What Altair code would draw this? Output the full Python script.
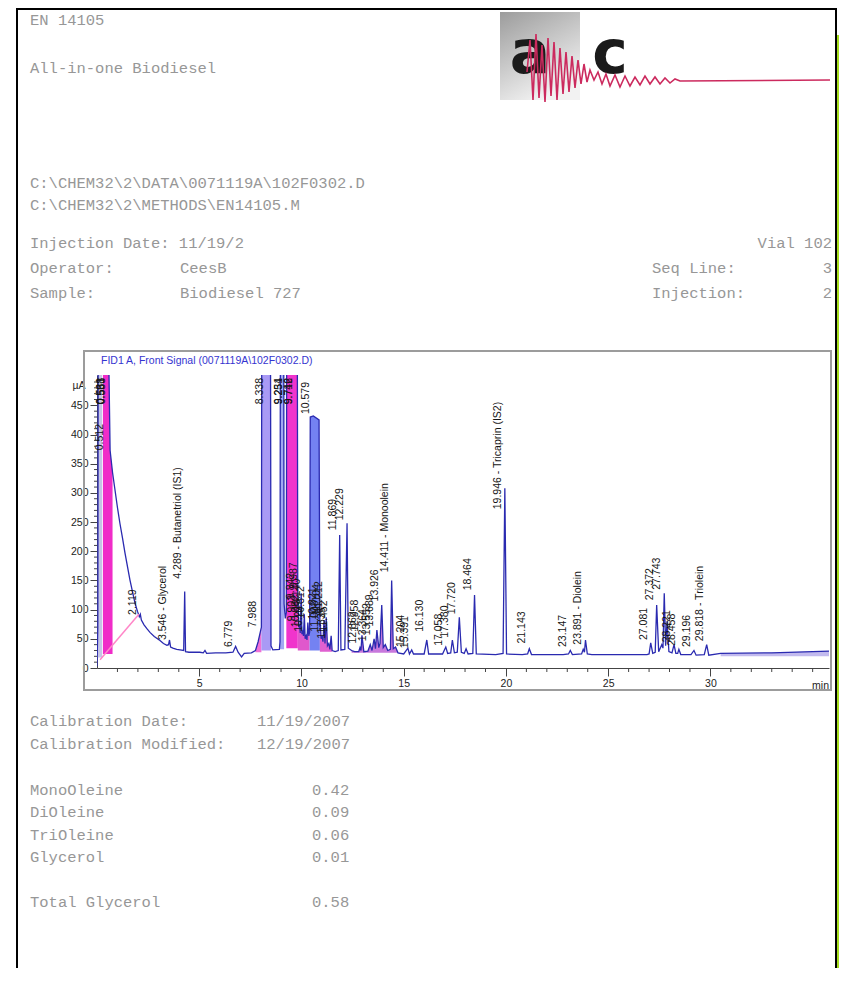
import altair as alt
import pandas as pd

# ---------------- chromatogram trace (min, µA) ----------------
trace_time = [0.00, 0.04, 0.07, 0.25, 0.29, 0.55, 0.58, 0.64, 0.76, 0.88, 1.00, 1.12, 1.25, 1.37, 1.50,
              1.61, 1.74, 1.86, 1.98, 2.07, 2.119, 2.17, 2.30, 2.45, 2.59, 2.80, 3.08, 3.25, 3.42, 3.50,
              3.546, 3.60, 3.71, 3.90, 4.06, 4.24, 4.289, 4.33, 4.50, 5.03, 5.20, 5.28, 5.36, 5.80, 6.30,
              6.65, 6.779, 6.90, 7.07, 7.20, 7.55, 7.75, 7.88, 7.988, 8.04, 8.07, 8.338, 8.47, 8.51, 8.60,
              8.92, 8.95, 8.98, 9.12, 9.15, 9.21, 9.26, 9.29, 9.50, 9.78, 9.82, 9.842, 9.87, 9.903, 9.94,
              9.987, 10.02, 10.062, 10.10, 10.140, 10.18, 10.227, 10.27, 10.312, 10.36, 10.40, 10.43, 10.579,
              10.86, 10.90, 10.921, 10.96, 11.008, 11.05, 11.104, 11.15, 11.212, 11.27, 11.335, 11.39, 11.452,
              11.50, 11.65, 11.80, 11.869, 11.93, 12.12, 12.229, 12.29, 12.45, 12.60, 12.80, 12.862, 12.91,
              12.958, 13.05, 13.25, 13.364, 13.45, 13.552, 13.62, 13.689, 13.78, 13.84, 13.926, 14.00, 14.10,
              14.22, 14.35, 14.411, 14.49, 14.60, 14.72, 15.00, 15.204, 15.28, 15.391, 15.48, 16.00, 16.130,
              16.22, 16.90, 17.058, 17.15, 17.30, 17.380, 17.48, 17.62, 17.720, 17.82, 17.96, 18.05, 18.15,
              18.38, 18.464, 18.55, 19.50, 19.86, 19.946, 20.03, 20.80, 21.06, 21.143, 21.25, 22.80, 23.06,
              23.147, 23.25, 23.70, 23.78, 23.84, 23.891, 23.98, 24.20, 26.90, 27.00, 27.081, 27.18, 27.30,
              27.372, 27.47, 27.62, 27.68, 27.743, 27.81, 27.88, 27.97, 28.12, 28.221, 28.31, 28.40, 28.458,
              28.55, 29.05, 29.196, 29.30, 29.70, 29.818, 29.92, 30.50, 33.00, 35.80]
trace_signal = [3, 70, 900, 900, 900, 900, 520, 373, 335, 305, 275, 248, 222, 197, 172,
                151, 130, 111, 97, 88, 92, 82, 74, 67, 61, 54, 47, 42, 39, 40,
                48, 36, 34, 32, 31, 30, 131, 28, 27, 27, 26, 30, 25, 26, 26,
                27, 37, 27, 19, 25, 26, 30, 45, 62, 70, 900, 900, 900, 38, 31,
                32, 45, 900, 900, 110, 85, 95, 900, 900, 900, 105, 110, 70, 74, 60,
                128, 58, 62, 55, 92, 50, 55, 48, 78, 55, 62, 430, 432,
                425, 70, 76, 50, 55, 45, 82, 42, 87, 38, 42, 32, 55,
                30, 28, 30, 228, 31, 32, 248, 34, 30, 28, 28, 35, 30,
                56, 28, 29, 40, 30, 50, 33, 65, 35, 42, 108, 35, 40,
                30, 32, 150, 33, 36, 26, 24, 34, 24, 31, 24, 24, 48,
                24, 24, 36, 25, 26, 48, 26, 27, 87, 27, 25, 33, 24,
                25, 125, 24, 23, 25, 308, 24, 23, 24, 33, 23, 23, 24,
                30, 23, 24, 32, 27, 48, 24, 23, 23, 24, 43, 25, 27,
                108, 28, 40, 34, 128, 38, 80, 28, 26, 40, 25, 25, 32,
                23, 23, 30, 22, 23, 40, 22, 25, 26, 29]

# ---------------- peak labels: retention time, µA where label starts (None = hung from top), name ----------------
peak_time = [0.512, 0.538, 0.561, 0.583, 2.119, 3.546, 4.289, 6.779, 7.988, 8.338, 9.231, 9.254, 9.716, 9.742,
             9.842, 9.903, 9.987, 10.062, 10.140, 10.227, 10.312, 10.579, 10.921, 11.008, 11.104, 11.212,
             11.335, 11.452, 11.869, 12.229, 12.862, 12.958, 13.364, 13.552, 13.689, 13.926, 14.411, 15.204,
             15.391, 16.130, 17.058, 17.380, 17.720, 18.464, 19.946, 21.143, 23.147, 23.891, 27.081, 27.372,
             27.743, 28.221, 28.458, 29.196, 29.818]
peak_label_at = [373, None, None, None, 91, 48, 153, 36, 70, None, None, None, None, None,
                 118, 80, 136, 70, 98, 62, 85, 435, 83, 62, 90, 95,
                 50, 62, 236, 253, 42, 62, 46, 56, 71, 114, 164, 36,
                 34, 62, 38, 52, 92, 133, 272, 42, 36, 40, 48, 116,
                 134, 44, 38, 36, 46]
peak_name = {3.546: "Glycerol", 4.289: "Butanetriol (IS1)", 14.411: "Monoolein",
             19.946: "Tricaprin (IS2)", 23.891: "Diolein", 29.818: "Triolein"}

# ---------------- integrated (shaded) regions: from, to, baseline µA ----------------
area_from = [0.00, 0.29, 7.75, 8.04, 8.95, 9.26, 9.82, 10.40, 10.90, 12.45, 30.50]
area_to = [0.25, 0.76, 8.04, 8.51, 9.15, 9.82, 10.40, 10.90, 11.50, 14.72, 35.80]
area_base = [18, 24, 27, 30, 32, 34, 30, 30, 28, 26, 20]
area_color = ["#c6c6e6", "#f02cc8", "#f070d6", "#a99af5", "#a2a8f2", "#f034cc",
              "#e058cc", "#7482f2", "#e060d0", "#c878dc", "#c2baee"]

# tangent baseline drawn in pink under the solvent tail
tangent_time = [0.15, 2.05]
tangent_signal = [14, 92]

# axis ticks
x_major = [5, 10, 15, 20, 25, 30]
x_minor = [1, 2, 3, 4, 6, 7, 8, 9, 11, 12, 13, 14, 16, 17, 18, 19, 21, 22, 23, 24, 26, 27, 28, 29,
           31, 32, 33, 34, 35]
y_major = [0, 50, 100, 150, 200, 250, 300, 350, 400, 450]
y_minor = [10, 20, 30, 40, 60, 70, 80, 90, 110, 120, 130, 140, 160, 170, 180, 190, 210, 220, 230, 240,
           260, 270, 280, 290, 310, 320, 330, 340, 360, 370, 380, 390, 410, 420, 430, 440, 460, 470, 480, 490]

# ---------------- report texts ----------------
method_name = "EN 14105"
method_title = "All-in-one Biodiesel"
data_file = "C:\\CHEM32\\2\\DATA\\0071119A\\102F0302.D"
method_file = "C:\\CHEM32\\2\\METHODS\\EN14105.M"
injection_date = "11/19/2"
operator = "CeesB"
sample = "Biodiesel 727"
vial = "102"
seq_line = "3"
injection_no = "2"
signal_title = "FID1 A, Front Signal (0071119A\\102F0302.D)"
calibration_date = "11/19/2007"
calibration_modified = "12/19/2007"
result_names = ["MonoOleine", "DiOleine", "TriOleine", "Glycerol"]
result_values = ["0.42", "0.09", "0.06", "0.01"]
total_name = "Total Glycerol"
total_value = "0.58"

# ---------------- layout (page pixels) ----------------
W, H = 732, 293
X0, Y0 = 97, 375          # plot origin on the page
PAD = {"left": 89, "top": 367, "right": 10, "bottom": 300}
MONO = "Liberation Mono"
SANS = "Liberation Sans"
DOC_GRAY = "#979797"

result_rows = [790, 812, 835, 857]
left_lines = [
    (method_name, 30, 20), (method_title, 30, 68),
    (data_file, 30, 183), (method_file, 30, 205),
    ("Injection Date: " + injection_date, 30, 243),
    ("Operator:", 30, 268), (operator, 180, 268), ("Seq Line:", 652, 268),
    ("Sample:", 30, 293), (sample, 180, 293), ("Injection:", 652, 293),
    ("Calibration Date:", 30, 721), (calibration_date, 257, 721),
    ("Calibration Modified:", 30, 744), (calibration_modified, 257, 744),
]
for n, v, yy in zip(result_names, result_values, result_rows):
    left_lines.append((n, 30, yy))
    left_lines.append((v, 312, yy))
left_lines += [(total_name, 30, 902), (total_value, 312, 902)]
right_lines = [("Vial " + vial, 832, 243), (seq_line, 832, 268), (injection_no, 832, 293)]

# ---------------- build frames ----------------
trace = pd.DataFrame({"time": trace_time, "signal": trace_signal})

lab = pd.DataFrame({"time": peak_time, "at": peak_label_at})
lab["text"] = [f"{t:.3f}" + (" - " + peak_name[t] if t in peak_name else "") for t in peak_time]
lab_low = lab[lab["at"].notna()].rename(columns={"at": "signal"})
lab_top = lab[lab["at"].isna()][["time", "text"]]

tangent = pd.DataFrame({"time": tangent_time, "signal": tangent_signal})
xminor = pd.DataFrame({"time": x_minor})
yminor = pd.DataFrame({"signal": y_minor})

xs = alt.Scale(domain=[0, 35.8], nice=False, zero=False)
ys = alt.Scale(domain=[0, 502], nice=False)

axis_common = dict(domainColor="#444", tickColor="#444", labelColor="#222", labelFont=SANS,
                   labelFontSize=10.5, titleFont=SANS, titleFontSize=10.5, titleFontWeight="normal",
                   titleColor="#222", grid=False)
x_axis = alt.Axis(values=x_major, tickSize=8, labelPadding=2, title="min", titleX=723, titleY=17,
                  titleAlign="center", titleBaseline="middle", labelFlush=False, **axis_common)
y_axis = alt.Axis(values=y_major, tickSize=7, labelPadding=2, title="µA", titleAngle=0, titleX=-12,
                  titleY=10, titleAlign="right", titleBaseline="middle", **axis_common)
X = alt.X("time:Q", scale=xs, axis=x_axis)
Y = alt.Y("signal:Q", scale=ys, axis=y_axis)

one = pd.DataFrame({"k": [0]})


def deco(mark, **enc):
    return alt.Chart(one).mark_rect(**mark).encode(**enc)


def px_pos(field):
    return alt.X(field + ":Q", scale=None, axis=None)


def py_pos(field):
    return alt.Y(field + ":Q", scale=None, axis=None)


# document borders and chart frame
border_left = deco(dict(color="#000"), x=alt.value(16 - X0), x2=alt.value(18 - X0),
                   y=alt.value(9 - Y0), y2=alt.value(968 - Y0))
border_top = deco(dict(color="#000"), x=alt.value(16 - X0), x2=alt.value(837 - X0),
                  y=alt.value(8 - Y0), y2=alt.value(10 - Y0))
border_right = deco(dict(color="#000"), x=alt.value(835 - X0), x2=alt.value(837 - X0),
                    y=alt.value(8 - Y0), y2=alt.value(968 - Y0))
green = deco(dict(color="#a6dc1e"), x=alt.value(837 - X0), x2=alt.value(839 - X0),
             y=alt.value(35 - Y0), y2=alt.value(968 - Y0))
frame = deco(dict(fillOpacity=0, stroke="#9c9c9c", strokeWidth=2),
             x=alt.value(84 - X0), x2=alt.value(831 - X0), y=alt.value(351 - Y0), y2=alt.value(690 - Y0))

# logo
logo_box = deco(dict(color=alt.Gradient(gradient="linear", x1=0, y1=0, x2=0.5, y2=1,
                                        stops=[alt.GradientStop(color="#9c9c9c", offset=0),
                                               alt.GradientStop(color="#f2f2f2", offset=1)])),
                x=alt.value(500 - X0), x2=alt.value(580 - X0), y=alt.value(12 - Y0), y2=alt.value(100 - Y0))
logo_letters = alt.Chart(pd.DataFrame({"t": ["a", "c"], "px": [530 - X0, 610 - X0], "py": [73 - Y0, 73 - Y0]})).mark_text(
    font="DejaVu Sans", fontWeight="bold", fontSize=60, color="#1b1b1b", baseline="alphabetic", align="center"
).encode(x=px_pos("px"), y=py_pos("py"), text="t:N")
wave_x = [527, 530, 533, 536, 539, 542, 545, 548, 551, 554, 557, 560, 563, 566, 569, 572, 575, 578, 581, 584,
          587, 590, 594, 598, 602, 606, 610, 615, 620, 625, 630, 635, 640, 645, 650, 655, 660, 665, 670, 675,
          680, 830]
wave_y = [72, 40, 100, 34, 98, 45, 102, 38, 96, 42, 100, 48, 94, 52, 92, 56, 88, 60, 84, 64,
          82, 70, 80, 72, 84, 74, 86, 75, 87, 76, 86, 77, 85, 76, 84, 77, 84, 78, 83, 79,
          81, 80]
wave = alt.Chart(pd.DataFrame({"px": [v - X0 for v in wave_x], "py": [v - Y0 for v in wave_y],
                               "o": list(range(len(wave_x)))})).mark_line(color="#cc2a5e", strokeWidth=1.6).encode(
    x=px_pos("px"), y=py_pos("py"), order="o:Q")

# report text
doc_left = alt.Chart(pd.DataFrame({"t": [r[0] for r in left_lines], "px": [r[1] - X0 for r in left_lines],
                                   "py": [r[2] - Y0 for r in left_lines]})).mark_text(
    font=MONO, fontSize=15.5, color=DOC_GRAY, align="left", baseline="middle"
).encode(x=px_pos("px"), y=py_pos("py"), text="t:N")
doc_right = alt.Chart(pd.DataFrame({"t": [r[0] for r in right_lines], "px": [r[1] - X0 for r in right_lines],
                                    "py": [r[2] - Y0 for r in right_lines]})).mark_text(
    font=MONO, fontSize=15.5, color=DOC_GRAY, align="right", baseline="middle"
).encode(x=px_pos("px"), y=py_pos("py"), text="t:N")
sig_title = alt.Chart(one).mark_text(font=SANS, fontSize=10.5, color="#3434d0", align="left",
                                     baseline="middle").encode(
    x=alt.value(101 - X0), y=alt.value(361 - Y0), text=alt.value(signal_title))

# chromatogram layers (all share the same scale and axis definitions)
fill_layers = []
for a, b, base, col in zip(area_from, area_to, area_base, area_color):
    seg = trace[(trace.time >= a) & (trace.time <= b)].copy()
    seg["base"] = base
    fill_layers.append(
        alt.Chart(seg).mark_area(clip=True, color=col).encode(x=X, y=Y, y2="base:Q")
    )

line = alt.Chart(trace).mark_line(clip=True, color="#2a2ab0", strokeWidth=1.3).encode(
    x=X, y=Y, order="time:Q")
tangent_line = alt.Chart(tangent).mark_line(clip=True, color="#ff86c8", strokeWidth=1.5).encode(x=X, y=Y)
labels_low = alt.Chart(lab_low).mark_text(angle=270, align="left", baseline="bottom", dy=-2, font=SANS,
                                          fontSize=10.5, color="#151515").encode(x=X, y=Y, text="text:N")
labels_top = alt.Chart(lab_top).mark_text(angle=270, align="right", baseline="bottom", dy=-2, font=SANS,
                                          fontSize=10.5, color="#151515").encode(
    x=X, y=alt.value(3), text="text:N")
xminor_ticks = alt.Chart(xminor).mark_rule(color="#444", strokeWidth=1).encode(
    x=X, y=alt.value(H), y2=alt.value(H + 4))
yminor_ticks = alt.Chart(yminor).mark_rule(color="#444", strokeWidth=1).encode(
    y=Y, x=alt.value(-3), x2=alt.value(0))

chart = alt.layer(
    *fill_layers, line, tangent_line, labels_low, labels_top, xminor_ticks, yminor_ticks,
    frame, sig_title, logo_box, logo_letters, wave, doc_left, doc_right,
    border_left, border_top, border_right, green,
).properties(
    width=W, height=H, padding=PAD, autosize=alt.AutoSizeParams(type="none"), background="white"
).configure_view(strokeWidth=0)

chart.save("out.html", embed_options={"renderer": "svg", "actions": False})
